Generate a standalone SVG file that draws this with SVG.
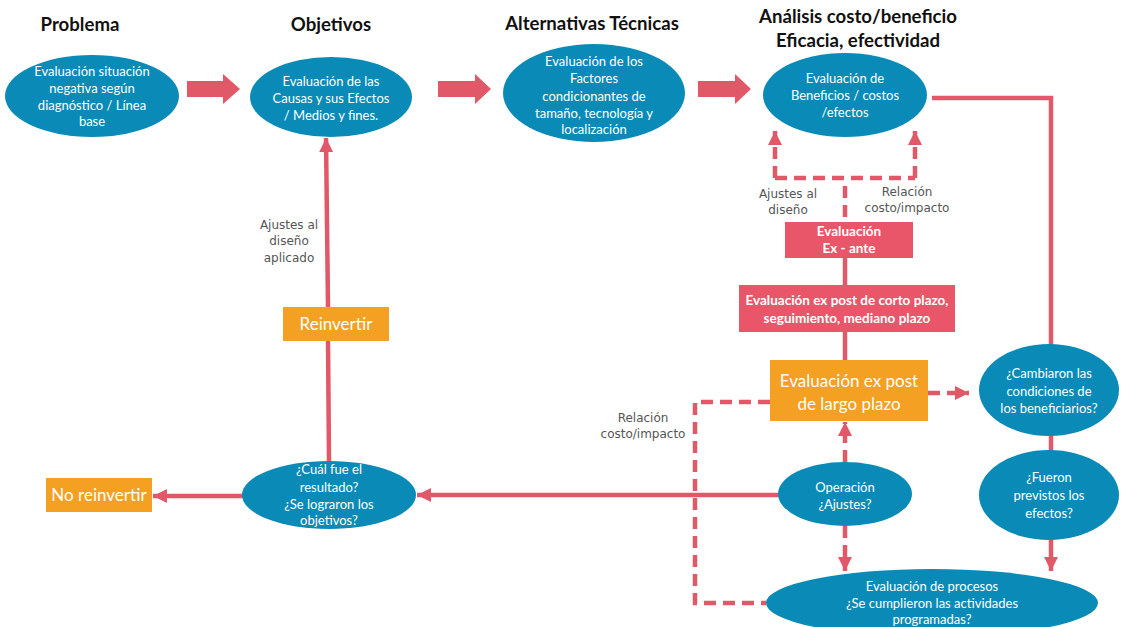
<svg xmlns="http://www.w3.org/2000/svg" width="1121" height="627" viewBox="0 0 1121 627">
  <style>
    .title { font-family: Lato, "Liberation Sans", sans-serif; font-weight: bold; font-size: 18.6px; fill: #111; text-anchor: middle; }
    .node { fill: #0a8bb7; }
    .ntext { font-family: Lato, "Liberation Sans", sans-serif; font-size: 13px; fill: #fff; text-anchor: middle; }
    .rbox { fill: #ea5669; }
    .rtext { font-family: Lato, "Liberation Sans", sans-serif; font-weight: bold; font-size: 13.5px; fill: #fff; text-anchor: middle; }
    .obox { fill: #f4a022; }
    .otext { font-family: Lato, "Liberation Sans", sans-serif; font-size: 17px; fill: #fff; text-anchor: middle; }
    .label { font-family: "DejaVu Sans", Verdana, sans-serif; font-size: 12px; fill: #555; text-anchor: middle; }
    .solid { fill: none; stroke: #e15869; stroke-width: 4.5; }
    .dash { fill: none; stroke: #e15869; stroke-width: 4.5; stroke-dasharray: 12 7; }
    .big { fill: #e15869; }
  </style>
  <defs>
    <marker id="ah" markerUnits="userSpaceOnUse" markerWidth="16" markerHeight="16" refX="14" refY="7" orient="auto">
      <path d="M0,0 L14,7 L0,14 z" fill="#e15869"/>
    </marker>
  </defs>

  <rect width="1121" height="627" fill="#fff"/>

  <!-- column headings -->
  <g id="headings">
    <text class="title" x="80" y="31">Problema</text>
    <text class="title" x="331" y="31">Objetivos</text>
    <text class="title" x="592" y="30">Alternativas Técnicas</text>
    <text class="title" x="858" y="23">Análisis costo/beneficio</text>
    <text class="title" x="858" y="47">Eficacia, efectividad</text>
  </g>

  <!-- connectors -->
  <g id="connectors">
    <polygon class="big" points="187,81 223,81 223,74 240,89 223,104 223,97 187,97"/>
    <polygon class="big" points="438,81 475,81 475,74 491,89 475,104 475,97 438,97"/>
    <polygon class="big" points="698,81 735,81 735,74 751,89 735,104 735,97 698,97"/>

    <line class="solid" x1="329" y1="461" x2="328" y2="341"/>
    <line class="solid" x1="328" y1="307" x2="326" y2="138" marker-end="url(#ah)"/>
    <line class="solid" x1="779" y1="495" x2="417" y2="495" marker-end="url(#ah)"/>
    <line class="solid" x1="243" y1="496" x2="153" y2="496" marker-end="url(#ah)"/>
    <polyline class="solid" points="932,98 1051,98 1051,345"/>
    <line class="solid" x1="1051" y1="435" x2="1051" y2="451"/>
    <line class="solid" x1="1051" y1="539" x2="1051" y2="571" marker-end="url(#ah)"/>
    <line class="solid" x1="845" y1="258" x2="845" y2="285"/>
    <line class="solid" x1="845" y1="332" x2="845" y2="360"/>

    <line class="dash" x1="775" y1="178" x2="915" y2="178"/>
    <line class="dash" x1="775" y1="178" x2="775" y2="131" marker-end="url(#ah)"/>
    <line class="dash" x1="915" y1="178" x2="915" y2="131" marker-end="url(#ah)"/>
    <line class="dash" x1="845" y1="186" x2="845" y2="222"/>
    <line class="dash" x1="928" y1="393" x2="969" y2="393" marker-end="url(#ah)"/>
    <line class="dash" x1="845" y1="462" x2="845" y2="422" marker-end="url(#ah)"/>
    <line class="dash" x1="845" y1="526" x2="845" y2="571" marker-end="url(#ah)"/>
    <polyline class="dash" points="770,402 695,402 695,603 766,603"/>
  </g>

  <!-- connector labels -->
  <g id="labels">
    <text class="label" x="788" y="198">Ajustes al</text>
    <text class="label" x="788" y="214">diseño</text>
    <text class="label" x="907" y="196">Relación</text>
    <text class="label" x="907" y="212">costo/impacto</text>
    <text class="label" x="289" y="229">Ajustes al</text>
    <text class="label" x="289" y="245">diseño</text>
    <text class="label" x="289" y="262">aplicado</text>
    <text class="label" x="643" y="422">Relación</text>
    <text class="label" x="643" y="438">costo/impacto</text>
  </g>

  <g id="problema">
    <ellipse class="node" cx="92" cy="96" rx="87" ry="41"/>
    <text class="ntext" x="92" y="76">Evaluación situación</text>
    <text class="ntext" x="92" y="93">negativa según</text>
    <text class="ntext" x="92" y="110">diagnóstico / Línea</text>
    <text class="ntext" x="92" y="126">base</text>
  </g>

  <g id="objetivos">
    <ellipse class="node" cx="331" cy="97" rx="81" ry="40"/>
    <text class="ntext" x="331" y="86">Evaluación de las</text>
    <text class="ntext" x="331" y="103">Causas y sus Efectos</text>
    <text class="ntext" x="331" y="120">/ Medios y fines.</text>
  </g>

  <g id="alternativas">
    <ellipse class="node" cx="594" cy="93" rx="91" ry="49"/>
    <text class="ntext" x="594" y="66">Evaluación de los</text>
    <text class="ntext" x="594" y="83">Factores</text>
    <text class="ntext" x="594" y="101">condicionantes de</text>
    <text class="ntext" x="594" y="118">tamaño, tecnología y</text>
    <text class="ntext" x="594" y="134">localización</text>
  </g>

  <g id="analisis">
    <ellipse class="node" cx="845" cy="95" rx="82" ry="42"/>
    <text class="ntext" x="845" y="83">Evaluación de</text>
    <text class="ntext" x="845" y="100">Beneficios / costos</text>
    <text class="ntext" x="845" y="117">/efectos</text>
  </g>

  <g id="ex-ante">
    <rect class="rbox" x="785" y="222" width="128" height="36"/>
    <text class="rtext" x="849" y="236">Evaluación</text>
    <text class="rtext" x="849" y="253">Ex - ante</text>
  </g>

  <g id="corto-plazo">
    <rect class="rbox" x="739" y="285" width="216" height="47"/>
    <text class="rtext" x="847" y="305">Evaluación ex post de corto plazo,</text>
    <text class="rtext" x="847" y="323">seguimiento, mediano plazo</text>
  </g>

  <g id="largo-plazo">
    <rect class="obox" x="770" y="360" width="158" height="61"/>
    <text class="otext" x="849" y="387">Evaluación ex post</text>
    <text class="otext" x="849" y="410">de largo plazo</text>
  </g>

  <g id="cambiaron">
    <ellipse class="node" cx="1049" cy="390" rx="70" ry="46"/>
    <text class="ntext" x="1049" y="378">¿Cambiaron las</text>
    <text class="ntext" x="1049" y="396">condiciones de</text>
    <text class="ntext" x="1049" y="413">los beneficiarios?</text>
  </g>

  <g id="fueron">
    <ellipse class="node" cx="1049" cy="495" rx="70" ry="45"/>
    <text class="ntext" x="1049" y="482">¿Fueron</text>
    <text class="ntext" x="1049" y="500">previstos los</text>
    <text class="ntext" x="1049" y="518">efectos?</text>
  </g>

  <g id="operacion">
    <ellipse class="node" cx="845" cy="494" rx="67" ry="32"/>
    <text class="ntext" x="845" y="492">Operación</text>
    <text class="ntext" x="845" y="509">¿Ajustes?</text>
  </g>

  <g id="procesos">
    <ellipse class="node" cx="932" cy="603" rx="166" ry="34"/>
    <text class="ntext" x="932" y="591">Evaluación de procesos</text>
    <text class="ntext" x="932" y="608">¿Se cumplieron las actividades</text>
    <text class="ntext" x="932" y="624">programadas?</text>
  </g>

  <g id="resultado">
    <ellipse class="node" cx="329" cy="495" rx="87" ry="34"/>
    <text class="ntext" x="329" y="474">¿Cuál fue el</text>
    <text class="ntext" x="329" y="492">resultado?</text>
    <text class="ntext" x="329" y="509">¿Se lograron los</text>
    <text class="ntext" x="329" y="525">objetivos?</text>
  </g>

  <g id="reinvertir">
    <rect class="obox" x="283" y="307" width="106" height="34"/>
    <text class="otext" x="336" y="330">Reinvertir</text>
  </g>

  <g id="no-reinvertir">
    <rect class="obox" x="46" y="478" width="106" height="34"/>
    <text class="otext" x="99" y="501">No reinvertir</text>
  </g>
</svg>
